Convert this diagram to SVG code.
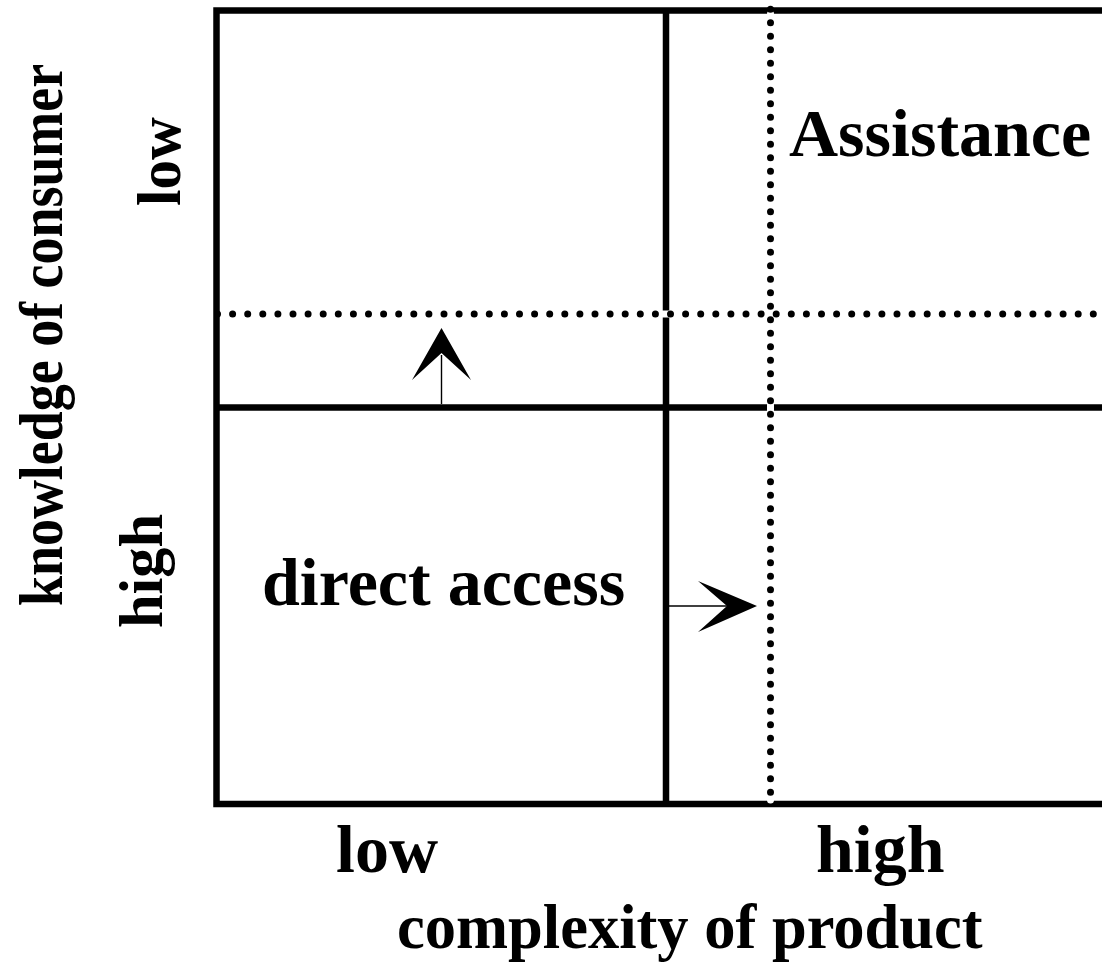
<svg xmlns="http://www.w3.org/2000/svg" width="1102" height="962" viewBox="0 0 1102 962">
  <style>
    .solid { stroke: #000; stroke-width: 6.5; fill: none; }
    .gap { stroke: #fff; stroke-width: 7; fill: none; }
    .dotsH { stroke: #000; stroke-width: 7; stroke-linecap: round; stroke-dasharray: 0 15.1; fill: none; }
    .dotsV { stroke: #000; stroke-width: 7; stroke-linecap: round; stroke-dasharray: 0 13.5; fill: none; }
    .shaft { stroke: #000; stroke-width: 1.4; fill: none; }
    .head { fill: #000; stroke: none; }
    text { font-family: "Liberation Serif", "Times New Roman", serif; font-weight: bold; fill: #000; }
    .big { font-size: 68px; }
    .axis { font-size: 62.5px; }
    .side { font-size: 61px; }
  </style>

  <rect width="1102" height="962" fill="#fff"/>

  <!-- outer frame and the solid quadrant dividers -->
  <g id="frame">
    <path class="solid" d="M1110,10.5 H216.5 V804 H1110"/>
    <path class="solid" d="M666,10.5 V804"/>
    <path class="solid" d="M216.5,407.5 H1110"/>
  </g>

  <!-- shifted (dotted) dividers -->
  <g id="shifted-dividers">
    <path class="gap" d="M220,314 H1110"/>
    <path class="gap" d="M770.5,14 V800" stroke-linecap="round"/>
    <path class="dotsH" d="M217.5,314 H1110"/>
    <path class="dotsV" d="M770.5,9.2 V800"/>
  </g>

  <!-- connectors: shift arrows -->
  <g id="connectors">
    <g id="arrow-up">
      <path class="shaft" d="M441.5,404 V355"/>
      <polygon class="head" points="441.5,328 471,380 441.5,353 412,380"/>
    </g>
    <g id="arrow-right">
      <path class="shaft" d="M669,606 H729"/>
      <polygon class="head" points="757,606 698,581 727,606 698,632"/>
    </g>
  </g>

  <!-- quadrant labels -->
  <g id="node-assistance">
    <text class="big" x="789" y="156">Assistance</text>
  </g>
  <g id="node-direct-access">
    <text class="big" x="262" y="605">direct access</text>
  </g>

  <!-- horizontal axis -->
  <g id="x-axis">
    <text class="big" x="336" y="872">low</text>
    <text class="big" x="816" y="872">high</text>
    <text class="axis" x="397" y="948">complexity of product</text>
  </g>

  <!-- vertical axis (condensed along the reading direction) -->
  <g id="y-axis">
    <text class="side" transform="translate(62,606) rotate(-90) scale(0.884,1)">knowledge of consumer</text>
    <text class="side" transform="translate(180,206) rotate(-90) scale(0.97,1)">low</text>
    <text class="side" transform="translate(162,628) rotate(-90) scale(0.99,1)">high</text>
  </g>
</svg>
